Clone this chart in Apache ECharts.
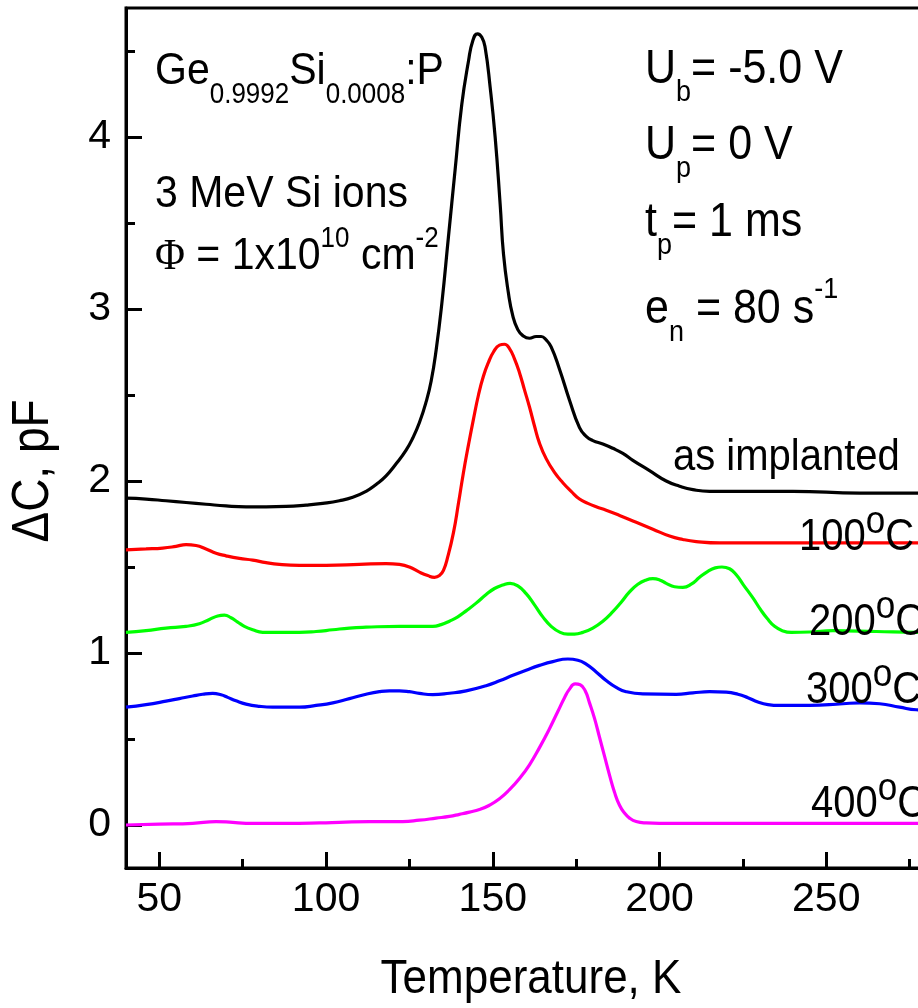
<!DOCTYPE html>
<html>
<head>
<meta charset="utf-8">
<title>DLTS spectra, Ge0.9992Si0.0008:P</title>
<script src="https://cdn.jsdelivr.net/npm/echarts@6/dist/echarts.min.js"></script>
<style>
  html, body { margin: 0; padding: 0; background: #fff; }
  #chart { width: 918px; height: 1008px; }
</style>
</head>
<body>
<div id="chart"></div>
<script>
// ΔC(T) spectra: [temperature in K, ΔC in pF]
const asImplanted = [[40,1.90],[46,1.895],[52,1.885],[58,1.875],[64,1.865],[70,1.855],[76,1.85],[82,1.85],[88,1.852],[94,1.86],[99,1.87],[104,1.885],[108,1.905],[112,1.94],[115,1.98],[118,2.03],[121,2.10],[124,2.18],[126,2.25],[128,2.34],[130,2.46],[131.5,2.58],[133,2.76],[134.7,3.03],[136.7,3.42],[138.7,3.81],[140.7,4.19],[142.7,4.44],[144,4.56],[145.4,4.60],[146.7,4.58],[147.7,4.52],[149.2,4.29],[150.7,4.00],[152.2,3.61],[153.2,3.32],[154.7,3.09],[156,2.96],[157.5,2.88],[159,2.845],[161,2.83],[163,2.84],[164.5,2.84],[166,2.82],[167.5,2.78],[170,2.65],[173,2.47],[176,2.31],[178,2.26],[180,2.235],[183,2.215],[186,2.19],[189,2.16],[192,2.12],[197,2.06],[202,2.00],[206,1.97],[210,1.95],[215,1.94],[225,1.94],[240,1.94],[260,1.93],[300,1.93]];
const annealed100 = [[40,1.60],[46,1.605],[51,1.61],[55,1.62],[58,1.63],[61,1.625],[64,1.605],[67,1.58],[70,1.565],[74,1.55],[78,1.54],[82,1.525],[86,1.515],[92,1.51],[100,1.51],[110,1.515],[118,1.52],[122,1.515],[125,1.50],[128,1.47],[130.5,1.45],[132.5,1.44],[134,1.45],[135.2,1.48],[136.5,1.56],[138.2,1.70],[139.7,1.87],[141.2,2.05],[142.7,2.21],[144.2,2.36],[145.7,2.50],[147.2,2.61],[148.7,2.69],[150.2,2.75],[152,2.79],[153.5,2.795],[155,2.77],[156.5,2.71],[158,2.63],[159.5,2.53],[161,2.43],[162.5,2.32],[164,2.22],[166,2.13],[168.5,2.05],[171,1.99],[173.5,1.94],[176,1.895],[178.5,1.87],[181,1.85],[184,1.83],[188,1.80],[193,1.76],[198,1.72],[203,1.68],[207,1.66],[211,1.648],[218,1.64],[240,1.64],[277,1.64],[300,1.64]];
const annealed200 = [[40,1.12],[46,1.13],[52,1.145],[58,1.155],[62,1.17],[65,1.195],[67.5,1.215],[69.5,1.22],[71.5,1.205],[73.5,1.18],[75.5,1.155],[78,1.135],[81,1.12],[86,1.12],[92,1.12],[97,1.125],[102,1.135],[107,1.145],[112,1.15],[122,1.155],[132,1.155],[134.5,1.165],[137,1.185],[139.5,1.21],[142,1.245],[145,1.29],[148,1.34],[150.5,1.375],[153,1.395],[155.2,1.405],[157.5,1.39],[160,1.345],[162.5,1.28],[165,1.21],[167.5,1.155],[170.2,1.12],[172.5,1.11],[174.5,1.11],[177,1.12],[180,1.145],[183,1.185],[186,1.24],[188.5,1.295],[191,1.355],[193.5,1.40],[196,1.425],[198,1.432],[200,1.425],[202,1.405],[204.5,1.385],[207,1.382],[209.5,1.40],[212,1.44],[214.5,1.475],[216.7,1.495],[218.7,1.50],[221,1.49],[223,1.455],[225.2,1.395],[228,1.32],[230.2,1.255],[232.3,1.20],[234.5,1.155],[236.8,1.13],[239.5,1.12],[245,1.122],[252,1.13],[265,1.125],[277,1.12],[300,1.12]];
const annealed300 = [[40,0.685],[46,0.70],[52,0.72],[56,0.735],[60,0.75],[63,0.76],[66,0.765],[68.5,0.757],[70.5,0.742],[73,0.722],[76,0.703],[80,0.69],[84,0.685],[92,0.685],[97,0.695],[102,0.71],[107,0.735],[112,0.76],[116,0.775],[119,0.78],[122,0.78],[125,0.775],[128,0.765],[132,0.758],[137,0.766],[142,0.78],[148,0.81],[152,0.838],[156,0.87],[160,0.90],[164,0.928],[168,0.95],[172.5,0.965],[175.5,0.958],[178,0.935],[181,0.89],[184,0.84],[187,0.80],[190,0.775],[195,0.762],[205,0.76],[210,0.768],[215,0.775],[220,0.772],[223.5,0.76],[226.5,0.74],[229.5,0.715],[232.5,0.70],[236,0.695],[245,0.695],[255,0.705],[260,0.71],[266,0.705],[272,0.685],[277,0.67],[290,0.665],[300,0.66]];
const annealed400 = [[40,0.00],[50,0.005],[60,0.01],[67,0.02],[72,0.015],[76,0.01],[88,0.01],[98,0.012],[104,0.015],[113,0.02],[123,0.02],[128,0.028],[133,0.04],[137,0.05],[140,0.062],[143,0.075],[146,0.09],[149,0.115],[152,0.152],[155,0.205],[158,0.27],[161,0.35],[164,0.45],[167,0.56],[169.5,0.66],[171.5,0.74],[173,0.79],[174.7,0.82],[176.2,0.815],[177.7,0.78],[179,0.71],[180.5,0.62],[182,0.51],[183.5,0.40],[185,0.29],[186.5,0.19],[188,0.115],[189.5,0.07],[191,0.04],[193,0.02],[196,0.012],[200,0.01],[300,0.01]];

// axis ticks
const temperatureTicks = [50, 100, 150, 200, 250, 300];
const temperatureMinorTicks = [75, 125, 175, 225, 275];
const capacitanceTicks = [0, 1, 2, 3, 4];
const capacitanceMinorTicks = [0.5, 1.5, 2.5, 3.5, 4.5];

const FONT = "'Liberation Sans', Arial, Helvetica, sans-serif";
const SERIF = "'Liberation Serif', 'Times New Roman', serif";
const INK = '#000';
const STRETCH = 1.1;   // tall, slightly condensed lettering

// rich-text styles: normal, subscript, superscript
const txt = (size) => ({ fontSize: size, fontFamily: FONT, color: INK, verticalAlign: 'middle' });
const sub = (size, drop) => Object.assign(txt(size), { padding: [drop * 2, 0, 0, 0] });
const sup = (size, lift) => Object.assign(txt(size), { padding: [0, 0, lift * 2, 0] });
const richBase = {
  m: txt(41),
  s: sub(26, 21),
  u: sup(26, 16),
  f: { fontSize: 41, fontFamily: SERIF, color: INK, verticalAlign: 'middle' },
  r: txt(43),
  rs: sub(27, 21),
  ru: sup(27, 18),
  d: sup(35, 14),
  l: txt(40)
};

function label(x, y, text) {
  return {
    type: 'text', x: x, y: y, scaleY: STRETCH, silent: true, z: 100,
    style: { text: text, rich: richBase, align: 'left', verticalAlign: 'middle' }
  };
}

const chart = echarts.init(document.getElementById('chart'), null, { renderer: 'canvas' });

const xBase = { type: 'value', min: 40, max: 300, gridIndex: 0, position: 'bottom', splitLine: { show: false } };
const yBase = { type: 'value', min: -0.25, max: 4.75, gridIndex: 0, position: 'left', splitLine: { show: false } };

const seriesDefs = [
  { name: 'as implanted', data: asImplanted, color: '#000000' },
  { name: '100°C', data: annealed100, color: '#ff0000' },
  { name: '200°C', data: annealed200, color: '#00ff00' },
  { name: '300°C', data: annealed300, color: '#0000ff' },
  { name: '400°C', data: annealed400, color: '#ff00ff' }
];

chart.setOption({
  animation: false,
  backgroundColor: '#fff',
  grid: {
    left: 126, right: -75, top: 8, bottom: 140,
    containLabel: false, outerBoundsMode: 'none',
    show: true, borderColor: INK, borderWidth: 3, backgroundColor: 'transparent'
  },
  xAxis: [
    Object.assign({}, xBase, {
      axisLine: { show: true, onZero: false, lineStyle: { color: INK, width: 3 } },
      axisTick: { show: true, inside: true, length: 16, customValues: temperatureTicks, lineStyle: { color: INK, width: 3 } },
      axisLabel: { show: true, customValues: temperatureTicks, margin: 11, fontSize: 41, fontFamily: FONT, color: INK }
    }),
    Object.assign({}, xBase, {
      axisLine: { show: false, onZero: false },
      axisTick: { show: true, inside: true, length: 9, customValues: temperatureMinorTicks, lineStyle: { color: INK, width: 3 } },
      axisLabel: { show: false }
    })
  ],
  yAxis: [
    Object.assign({}, yBase, {
      axisLine: { show: true, onZero: false, lineStyle: { color: INK, width: 3 } },
      axisTick: { show: true, inside: true, length: 16, customValues: capacitanceTicks, lineStyle: { color: INK, width: 3 } },
      axisLabel: { show: true, customValues: capacitanceTicks, margin: 15, fontSize: 41, fontFamily: FONT, color: INK }
    }),
    Object.assign({}, yBase, {
      axisLine: { show: false, onZero: false },
      axisTick: { show: true, inside: true, length: 9, customValues: capacitanceMinorTicks, lineStyle: { color: INK, width: 3 } },
      axisLabel: { show: false }
    })
  ],
  series: seriesDefs.map(s => ({
    name: s.name,
    type: 'line',
    xAxisIndex: 0,
    yAxisIndex: 0,
    data: s.data,
    showSymbol: false,
    smooth: 0.5,
    clip: true,
    lineStyle: { color: s.color, width: 3.2 },
    itemStyle: { color: s.color },
    emphasis: { disabled: true }
  })),
  graphic: [
    // sample and measurement conditions
    label(155, 72, '{m|Ge}{s|0.9992}{m|Si}{s|0.0008}{m|:P}'),
    label(155, 195, '{m|3 MeV Si ions}'),
    label(155, 257, '{f|Φ}{m| = 1x10}{u|10}{m| cm}{u|-2}'),
    label(645, 70, '{r|U}{rs|b}{r|= -5.0 V}'),
    label(645, 146, '{r|U}{rs|p}{r|= 0 V}'),
    label(645, 223, '{r|t}{rs|p}{r|= 1 ms}'),
    label(645, 310, '{r|e}{rs|n}{r| = 80 s}{ru|-1}'),
    // curve labels
    label(673, 458, '{l|as implanted}'),
    label(799, 538, '{l|100}{d|o}{l|C}'),
    label(809, 623, '{l|200}{d|o}{l|C}'),
    label(806, 691, '{l|300}{d|o}{l|C}'),
    label(811, 805, '{l|400}{d|o}{l|C}'),
    // axis titles
    {
      type: 'text', x: 531, y: 980, scaleY: STRETCH, silent: true,
      style: { text: 'Temperature, K', fontSize: 44, fontFamily: FONT, fill: INK, align: 'center', verticalAlign: 'middle' }
    },
    {
      type: 'text', x: 34, y: 471, rotation: Math.PI / 2, scaleY: 1.12, silent: true,
      style: { text: 'ΔC, pF', fontSize: 46, fontFamily: FONT, fill: INK, align: 'center', verticalAlign: 'middle' }
    }
  ]
});
</script>
</body>
</html>
